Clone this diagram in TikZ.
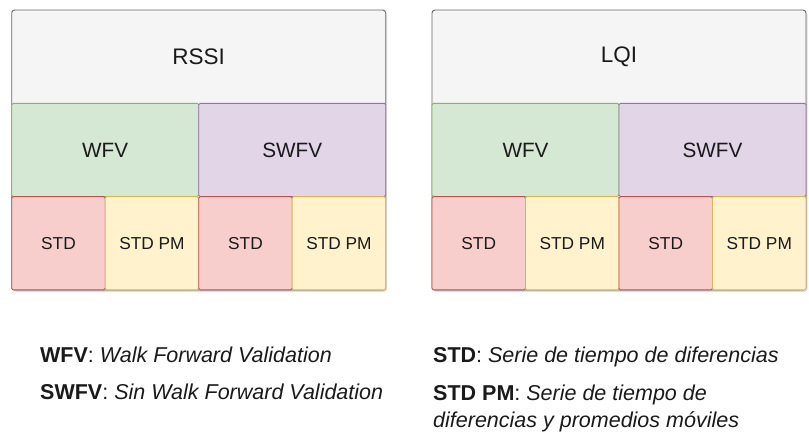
\documentclass[tikz,border=0pt]{standalone}
\usepackage{fontspec}
\setmainfont{Liberation Sans}
\usetikzlibrary{positioning,calc,shadows}
\definecolor{pnl}{HTML}{F5F5F5}
\definecolor{pnlb}{HTML}{666666}
\definecolor{wfv}{HTML}{D5E8D4}
\definecolor{wfvb}{HTML}{82B366}
\definecolor{swfv}{HTML}{E1D5E7}
\definecolor{swfvb}{HTML}{9673A6}
\definecolor{std}{HTML}{F8CECC}
\definecolor{stdb}{HTML}{B85450}
\definecolor{stdpm}{HTML}{FFF2CC}
\definecolor{stdpmb}{HTML}{D6B656}
\definecolor{txt}{HTML}{1A1A1A}
\tikzset{
  pnlbox/.style={draw=pnlb, fill=pnl, rounded corners=3pt, line width=0.9pt,
    minimum width=374pt, minimum height=280pt, inner sep=0pt, outer sep=0pt,
    drop shadow={shadow xshift=1.5pt, shadow yshift=-2pt, opacity=0.25}},
  fld/.style={draw, rounded corners=1.5pt, line width=0.9pt, minimum height=93.3pt,
    inner sep=0pt, outer sep=0pt, text=txt},
  half/.style={fld, minimum width=187pt, font=\fontsize{20.7}{24}\selectfont},
  quart/.style={fld, minimum width=93.5pt, font=\fontsize{17.3}{20}\selectfont},
  ttl/.style={text=txt, inner sep=0pt, font=\fontsize{22.5}{26}\selectfont},
  leg/.style={anchor=base west, inner sep=0pt, text=txt,
    font=\fontsize{21.5}{27}\selectfont}}

\begin{document}
\begin{tikzpicture}[x=1pt, y=-1pt, node distance=0pt]
\useasboundingbox (0,0) rectangle (809,440);
% RSSI
\node[pnlbox] (rssi) at (198.7,150) {};
\node[ttl] (rssil) at ($(rssi.north)!0.1667!(rssi.south)$) {RSSI};
\node[half, fill=wfv, draw=wfvb, below right=93.3pt and 0pt of rssi.north west] (wfv1) {WFV};
\node[half, fill=swfv, draw=swfvb, right=of wfv1] (swfv1) {SWFV};
\node[quart, fill=std, draw=stdb, below right=0pt and 0pt of wfv1.south west] (std1) {STD};
\node[quart, fill=stdpm, draw=stdpmb, right=of std1] (pm1) {STD PM};
\node[quart, fill=std, draw=stdb, right=of pm1] (std2) {STD};
\node[quart, fill=stdpm, draw=stdpmb, right=of std2] (pm2) {STD PM};
% LQI
\node[pnlbox] (lqi) at (619,150) {};
\node[ttl] (lqil) at ($(lqi.north)!0.1667!(lqi.south)$) {LQI};
\node[half, fill=wfv, draw=wfvb, below right=93.3pt and 0pt of lqi.north west] (wfv2) {WFV};
\node[half, fill=swfv, draw=swfvb, right=of wfv2] (swfv2) {SWFV};
\node[quart, fill=std, draw=stdb, below right=0pt and 0pt of wfv2.south west] (std3) {STD};
\node[quart, fill=stdpm, draw=stdpmb, right=of std3] (pm3) {STD PM};
\node[quart, fill=std, draw=stdb, right=of pm3] (std4) {STD};
\node[quart, fill=stdpm, draw=stdpmb, right=of std4] (pm4) {STD PM};
% legend
\node[leg] (lwfv) at (40,362.7) {\textbf{WFV}: \textit{Walk Forward Validation}};
\node[leg] (lswfv) at (40,399) {\textbf{SWFV}: \textit{Sin Walk Forward Validation}};
\node[leg] (lstd) at (433,362.7) {\textbf{STD}: \textit{Serie de tiempo de diferencias}};
\node[leg] (lpm) at (433,400) {\begin{tabular}[t]{@{}l@{}}\textbf{STD PM}: \textit{Serie de tiempo de}\\\textit{diferencias y promedios móviles}\end{tabular}};
\end{tikzpicture}
\end{document}
